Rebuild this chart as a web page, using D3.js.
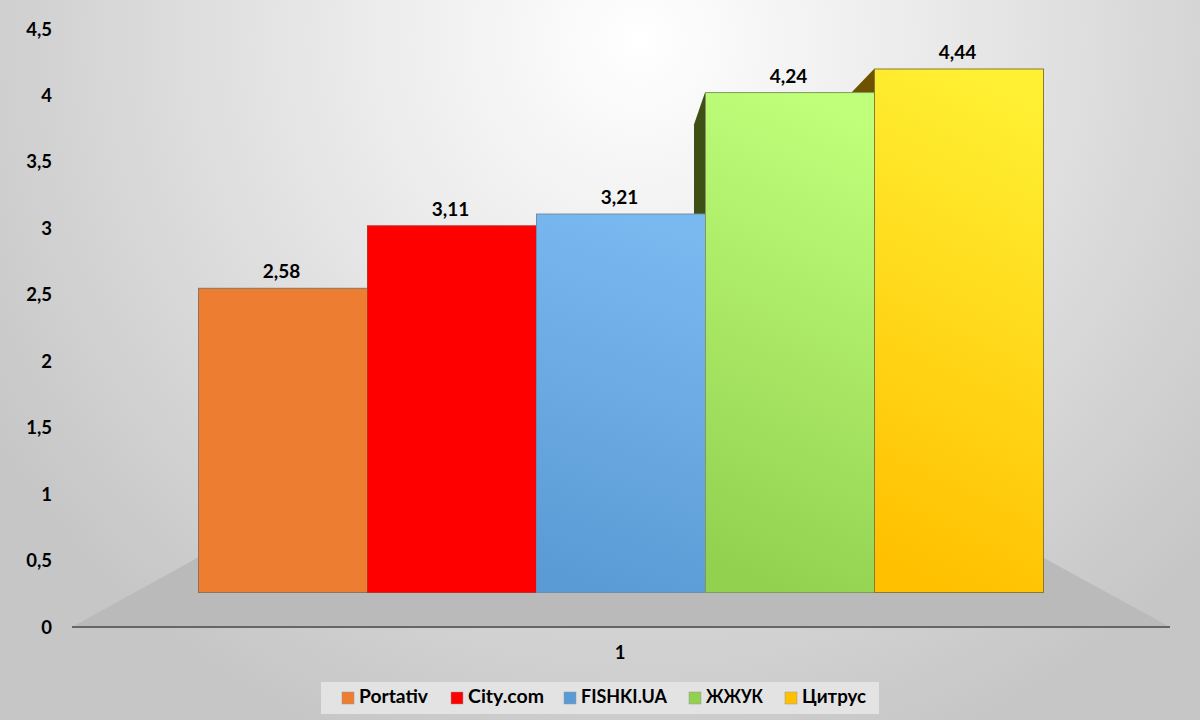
<!DOCTYPE html>
<html><head><meta charset="utf-8">
<script src="https://cdn.jsdelivr.net/npm/d3@7"></script>
<style>html,body{margin:0;padding:0;background:#ccc}svg{display:block}text{font-family:Lato,"Open Sans",sans-serif;font-weight:700;fill:#000}</style>
</head><body><svg id="c" width="1200" height="720"></svg>
<script>
const seriesNames=["Portativ","City.com","FISHKI.UA","ЖЖУК","Цитрус"];
const seriesValues=[2.58,3.11,3.21,4.24,4.44];
const seriesLabels=["2,58","3,11","3,21","4,24","4,44"];
const tickValues=[0,0.5,1,1.5,2,2.5,3,3.5,4,4.5];
const tickLabels=["0","0,5","1","1,5","2","2,5","3","3,5","4","4,5"];
const categoryLabel="1";
const topColors=["#ED7D31","#FF0000","#7AB8F0","#C0FF7A","#FFF033"];
const bottomColors=["#ED7D31","#FF0000","#5B9BD5","#92D050","#FFC000"];
const swatchColors=["#ED7D31","#FF0000","#5B9BD5","#92D050","#FFC000"];
const borderColors=["#8a7460","#c03020","#6d8fae","#7f9a5c","#8a7a30"];
const svg=d3.select("#c"),W=1200,H=720;
const defs=svg.append("defs");
const bg=defs.append("radialGradient").attr("id","bg").attr("gradientUnits","userSpaceOnUse")
 .attr("cx",640).attr("cy",40).attr("r",760);
[[0,"#ffffff"],[0.35,"#ececec"],[0.72,"#d6d6d6"],[1,"#c6c6c6"]].forEach(s=>bg.append("stop").attr("offset",s[0]).attr("stop-color",s[1]));
svg.append("rect").attr("width",W).attr("height",H).attr("fill","url(#bg)");

// axis scale (front plane) and bar scale (back plane of the 3D box)
const yAxis=d3.scaleLinear().domain([0,4.5]).range([627,29]);
const yBar=d3.scaleLinear().domain([0,4.44]).range([592.5,69]);
const xBar=d3.scaleBand().domain(seriesNames).range([198,1043]).padding(0);
const xAxis=d3.scaleLinear().domain([0,1]).range([72,1170]);

// floor
const floorY=yBar(0)-35;
svg.append("path").attr("fill","#bababa")
 .attr("d",d3.line()([[xAxis(0),yAxis(0)],[xBar.range()[0],floorY],[xBar.range()[1],floorY],[xAxis(1),yAxis(0)]])+"Z");
svg.append("line").attr("x1",xAxis(0)).attr("x2",xAxis(1)).attr("y1",yAxis(0)).attr("y2",yAxis(0))
 .attr("stroke","#666").attr("stroke-width",2);

// tick labels
svg.append("g").selectAll("text").data(tickValues).join("text")
 .attr("x",52).attr("y",d=>yAxis(d)+6.5).attr("text-anchor","end").attr("font-size",18.5)
 .text((d,i)=>tickLabels[i]);
svg.append("text").attr("x",620).attr("y",659).attr("text-anchor","middle").attr("font-size",18.5).text(categoryLabel);

// visible side faces
const sideDepth=[0,0,0,11,23],sideDrop=[0,0,0,32,24];
const sideColors=["#000","#000","#000","#3F5016","#6E5200"];
[3,4].forEach(i=>{
 const n=seriesNames[i],x=xBar(n),t=yBar(seriesValues[i]);
 const b=yBar(seriesValues[i-1]);
 svg.append("path").attr("fill",sideColors[i])
  .attr("d",d3.line()([[x,t],[x-sideDepth[i],t+sideDrop[i]],[x-sideDepth[i],b],[x,b]])+"Z");
});

// bars
seriesNames.forEach((n,i)=>{
 const g=defs.append("linearGradient").attr("id","b"+i).attr("x1",0.58).attr("y1",0).attr("x2",0.42).attr("y2",1);
 g.append("stop").attr("offset",0).attr("stop-color",topColors[i]);
 g.append("stop").attr("offset",1).attr("stop-color",bottomColors[i]);
});
svg.append("g").selectAll("rect").data(seriesNames).join("rect")
 .attr("x",d=>xBar(d)+0.5).attr("width",xBar.bandwidth())
 .attr("y",(d,i)=>yBar(seriesValues[i])).attr("height",(d,i)=>yBar(0)-yBar(seriesValues[i]))
 .attr("fill",(d,i)=>`url(#b${i})`).attr("stroke",(d,i)=>borderColors[i]).attr("stroke-width",1);

// value labels
svg.append("g").selectAll("text").data(seriesNames).join("text")
 .attr("x",d=>xBar(d)+xBar.bandwidth()/2-1).attr("y",(d,i)=>yBar(seriesValues[i])-10)
 .attr("text-anchor","middle").attr("font-size",19).text((d,i)=>seriesLabels[i]);

// legend
const legendStart=[342,451,564,689,785];
const legendTextWidth=[69,76,86,57,64];
svg.append("rect").attr("x",321).attr("y",682).attr("width",558).attr("height",32).attr("fill","#e3e3e3");
const lg=svg.append("g").selectAll("g").data(seriesNames).join("g").attr("transform",(d,i)=>`translate(${legendStart[i]},691)`);
lg.append("rect").attr("y",1).attr("width",12).attr("height",12).attr("fill",(d,i)=>swatchColors[i]).attr("stroke","#999").attr("stroke-width",.5);
lg.append("text").attr("x",17).attr("y",12).attr("font-size",19)
 .attr("textLength",(d,i)=>legendTextWidth[i]).attr("lengthAdjust","spacingAndGlyphs").text(d=>d);
</script></body></html>
